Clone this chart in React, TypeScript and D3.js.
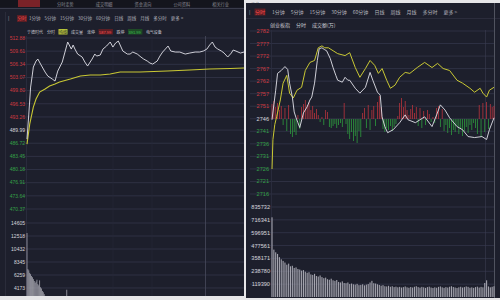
import React from 'react';
import * as d3 from 'd3';

// ---------- toolbar / header text ----------
const toolbarItems = ['1分钟', '5分钟', '15分钟', '30分钟', '60分钟', '日线', '周线', '月线', '多分时', '更多 >'];
const leftTabs = ['分时走势', '成交明细', '资金流向', '公司资料', '相关行业', '更多'];
const leftInfo = ['宁德时代', '分时', '均线', '成交量', '涨停', '587.99', '跌停', '391.99', '电气设备'];
const rightInfo = ['创业板指', '分时', '成交额(万)'];

// ---------- left chart (宁德时代) ----------
const leftPriceTicks = [512.88, 509.61, 506.34, 503.07, 499.8, 496.53, 493.26, 489.99, 486.72, 483.45, 480.18, 476.91, 473.64, 470.37];
const leftPrevClose = 489.99;
const leftVolTicks = [14605, 12518, 10432, 8345, 6259, 4173];
const leftPriceMinutes = [0, 2, 4, 6, 7, 10, 12, 15, 20, 23, 28, 31, 34, 39, 42, 45, 49, 51, 53, 56, 61, 64, 67, 72, 75, 77, 81, 84, 88, 92, 95, 98, 101, 104, 106, 111, 114, 117, 122, 126, 129, 133, 136, 139, 144, 147, 150, 154, 156, 159, 164, 169, 175, 180, 186, 191, 195, 199, 202, 205, 208, 211, 215, 218, 222, 226, 228, 231, 236, 240];
const leftPrice = [487.75, 493.97, 500.68, 503.92, 505.66, 507.15, 507.65, 506.4, 504.41, 503.42, 502.67, 502.18, 504.66, 506.9, 509.39, 511.88, 510.13, 511.13, 510.13, 508.89, 508.15, 506.9, 505.91, 507.65, 508.89, 508.39, 508.64, 510.13, 510.88, 511.88, 510.63, 511.63, 512.12, 510.63, 509.64, 508.89, 508.89, 509.39, 508.89, 508.15, 507.65, 507.15, 506.65, 506.4, 507.15, 508.39, 509.39, 510.38, 510.88, 509.64, 509.39, 509.39, 508.89, 509.14, 509.39, 509.39, 509.64, 510.13, 511.13, 511.88, 510.63, 510.13, 509.64, 509.14, 508.15, 509.14, 509.89, 509.64, 509.14, 509.39];
const leftAvgMinutes = [0, 3, 7, 10, 14, 20, 25, 31, 36, 48, 59, 70, 81, 92, 103, 125, 155, 180, 202, 225, 240];
const leftAvg = [486.51, 491.48, 495.71, 497.7, 499.44, 500.19, 500.93, 501.43, 501.93, 502.67, 503.42, 503.67, 503.67, 503.92, 504.41, 504.41, 504.66, 504.91, 505.16, 505.28, 505.41];
const leftVolume = [13000, 7200, 7000, 6600, 6400, 6100, 5900, 5600, 5300, 5000, 5200, 5500, 4800, 4600, 5400, 4300, 4100, 3700, 3500, 3200, 2900, 2700, 2600, 2500, 2400, 2600, 2300, 2200, 2400, 2100, 2000, 2200, 1900, 2100, 1800, 2000, 1900, 1700, 2000, 1800, 1600, 1900, 1700, 2000, 3900, 1800, 1600, 1500, 1700, 1600];

// ---------- right chart (创业板指) ----------
const rightPriceTicks = [2781.98, 2776.84, 2771.7, 2766.56, 2761.42, 2756.28, 2751.14, 2746.0, 2740.86, 2735.72, 2730.58, 2725.44, 2720.3, 2715.16];
const rightPriceLabels = ['2782', '2777', '2772', '2767', '2762', '2757', '2751', '2746', '2741', '2736', '2731', '2726', '2721', '2716'];
const rightPrevClose = 2746.0;
const rightVolTicks = [835732, 716341, 596951, 477561, 358171, 238780, 119390];
const rightPriceMinutes = [0, 2, 4, 6, 10, 12, 14, 17, 19, 22, 24, 26, 28, 30, 34, 38, 41, 43, 46, 49, 51, 54, 57, 59, 63, 66, 69, 71, 76, 79, 82, 84, 90, 95, 101, 106, 109, 114, 117, 119, 122, 125, 131, 138, 144, 147, 155, 160, 165, 173, 178, 182, 187, 192, 200, 206, 212, 219, 227, 232, 235, 240];
const rightPrice = [2745.6, 2751.7, 2757.7, 2764.6, 2765.8, 2766.6, 2767.4, 2766.2, 2760.6, 2754.9, 2748.8, 2746.4, 2744.4, 2742.4, 2748.4, 2750.9, 2753.7, 2754.9, 2760.6, 2769.9, 2774.7, 2775.1, 2774.3, 2773.9, 2770.7, 2767.0, 2763.8, 2761.8, 2761.0, 2763.0, 2761.8, 2761.8, 2758.5, 2756.5, 2758.9, 2765.0, 2761.8, 2756.9, 2755.7, 2746.8, 2742.8, 2740.3, 2741.5, 2744.4, 2747.6, 2745.6, 2744.4, 2745.6, 2746.8, 2742.8, 2747.6, 2751.7, 2749.6, 2746.4, 2742.8, 2741.5, 2738.7, 2738.3, 2738.7, 2737.5, 2741.5, 2746.4];
const rightAvgMinutes = [0, 1, 3, 5, 9, 12, 16, 19, 23, 27, 32, 36, 41, 46, 50, 54, 57, 61, 66, 71, 79, 84, 90, 95, 101, 106, 111, 115, 119, 124, 128, 133, 138, 144, 149, 157, 165, 173, 179, 185, 192, 200, 206, 214, 219, 225, 228, 232, 235, 240];
const rightAvg = [2725.4, 2737.5, 2743.6, 2746.8, 2753.7, 2760.6, 2763.8, 2756.5, 2754.5, 2757.7, 2758.9, 2765.8, 2769.1, 2769.9, 2775.1, 2775.9, 2775.1, 2775.1, 2773.9, 2772.7, 2771.9, 2773.1, 2767.0, 2763.0, 2766.6, 2769.9, 2767.9, 2764.6, 2766.6, 2761.8, 2758.5, 2759.8, 2763.0, 2765.0, 2764.6, 2767.0, 2769.1, 2767.0, 2768.7, 2766.6, 2765.8, 2761.8, 2760.6, 2758.5, 2756.9, 2758.5, 2756.5, 2754.9, 2757.7, 2758.9];
// breadth (up minus down), one bar every 2 minutes
const rightBreadth = [150, 180, 120, 160, 90, 130, -60, 110, -120, 140, -150, -180, -130, -160, 40, -100, 120, 150, 190, 140, 170, 90, 130, 60, 100, 40, -30, 20, -60, 90, 70, -80, -90, -70, -50, -90, -60, -40, -80, 160, -50, -150, -200, -130, -220, -170, -240, -120, -180, 60, 110, -90, 140, -110, 90, 130, -70, 170, 230, 120, -100, -130, -90, -110, -70, -120, -80, -50, 30, 160, 210, 120, 180, 90, 40, 100, 140, 60, 120, -70, 110, -90, 80, -60, 90, 50, -30, 20, -40, 110, 130, -80, 100, -120, -60, -140, -90, -160, -110, -130, -70, -150, -100, -170, -120, -80, -140, -60, -110, -40, -90, -150, 140, -180, 160, -130, 170, -100, 150, 120, 130];
// turnover, one bar every 2 minutes
const rightVolume = [740000, 440000, 415000, 400000, 370000, 350000, 335000, 320000, 300000, 310000, 285000, 290000, 270000, 275000, 260000, 255000, 245000, 250000, 235000, 225000, 230000, 210000, 205000, 215000, 195000, 190000, 200000, 185000, 175000, 180000, 165000, 160000, 170000, 155000, 150000, 158000, 140000, 135000, 145000, 130000, 128000, 135000, 120000, 125000, 118000, 115000, 122000, 110000, 112000, 118000, 108000, 115000, 120000, 135000, 150000, 128000, 125000, 118000, 112000, 105000, 110000, 100000, 98000, 104000, 95000, 100000, 92000, 96000, 90000, 94000, 88000, 92000, 98000, 90000, 86000, 93000, 88000, 95000, 100000, 92000, 87000, 94000, 90000, 85000, 92000, 96000, 88000, 84000, 90000, 86000, 94000, 98000, 90000, 85000, 92000, 88000, 95000, 100000, 93000, 88000, 84000, 90000, 95000, 88000, 92000, 98000, 94000, 86000, 90000, 85000, 92000, 96000, 88000, 94000, 90000, 130000, 155000, 98000, 90000, 95000, 100000];

// ---------- styling ----------
const BG = '#1d1f2c';
const GRID = '#33364a';
const RED = '#cf3a40';
const GREEN = '#34a047';
const WHITE_T = '#d6d6dc';
const NUM_FONT = '"Liberation Sans", Arial, sans-serif';
const CJK_FONT = '"Noto Sans CJK SC", "Noto Sans", sans-serif';

function textW(s: string, fs: number) {
  let w = 0;
  for (const ch of s) {
    if (/[\u3000-\u9fff\uff00-\uffef]/.test(ch)) w += fs;
    else if (ch === ' ') w += fs * 0.28;
    else w += fs * 0.56;
  }
  return w;
}
function layout(items: string[], x0: number, fs: number, gap: number) {
  let x = x0;
  return items.map((s) => {
    const r = { s, x, w: textW(s, fs) };
    x += r.w + gap;
    return r;
  });
}

export default function App() {
  // left scales
  const xL = d3.scaleLinear().domain([0, 240]).range([27, 244]);
  const yPL = d3.scaleLinear().domain([470.37, 512.88]).range([209, 38]);
  const yVL = d3.scaleLinear().domain([0, 14605]).range([314, 223]);
  // right scales
  const xR = d3.scaleLinear().domain([0, 240]).range([272, 494]);
  const yPR = d3.scaleLinear().domain([2715.16, 2781.98]).range([194, 31]);
  const yVR = d3.scaleLinear().domain([0, 835732]).range([297, 207]);
  const yBR = d3.scaleLinear().domain([-250, 250]).range([144, 94]);

  const lineL = d3.line<[number, number]>().x((d) => xL(d[0])).y((d) => yPL(d[1]));
  const lineR = d3.line<[number, number]>().x((d) => xR(d[0])).y((d) => yPR(d[1]));

  const lPricePts = leftPriceMinutes.map((m, i) => [m, leftPrice[i]] as [number, number]);
  const lAvgPts = leftAvgMinutes.map((m, i) => [m, leftAvg[i]] as [number, number]);
  const rPricePts = rightPriceMinutes.map((m, i) => [m, rightPrice[i]] as [number, number]);
  const rAvgPts = rightAvgMinutes.map((m, i) => [m, rightAvg[i]] as [number, number]);

  const lTool = layout(toolbarItems, 29, 4.5, 4);
  const rTool = layout(toolbarItems, 272, 5, 6);
  const lInfo = layout(leftInfo, 27, 4, 4);
  const rInfoL = layout(rightInfo, 270, 5, 6);
  const lTabs = layout(leftTabs, 57, 4.2, 22);

  const priceColor = (v: number, prev: number) => (Math.abs(v - prev) < 1e-6 ? WHITE_T : v > prev ? RED : GREEN);

  return (
    <svg width={500} height={300} style={{ position: 'fixed', left: 0, top: 0, background: '#e6e6e8' }}>
      <defs>
        <clipPath id="clipLV"><rect x={26} y={216} width={218} height={80} /></clipPath>
        <clipPath id="clipRV"><rect x={271} y={200} width={224} height={97} /></clipPath>
      </defs>

      {/* ===== LEFT PANEL ===== */}
      <rect x={0} y={0} width={244} height={296} fill={BG} />
      <rect x={0} y={0} width={244} height={7.5} fill="#14151d" />
      <rect x={18} y={0} width={22} height={7} fill="#7a2228" />
      {lTabs.map((t) => (
        <text key={t.s} x={t.x} y={5.6} fontSize={4.2} fill="#8c8c96" fontFamily={CJK_FONT}>{t.s}</text>
      ))}
      <line x1={0} x2={244} y1={8.5} y2={8.5} stroke="#3a3c4c" strokeWidth={1} />
      {/* toolbar */}
      <text x={8} y={20} fontSize={5} fill="#8c8c96" fontFamily={NUM_FONT}>|</text>
      <rect x={17} y={15} width={10} height={7} fill="#5a1e24" />
      <text x={17.5} y={20.3} fontSize={4.5} fill="#ff4a4a" fontFamily={CJK_FONT}>分时</text>
      {lTool.map((t) => (
        <text key={t.s} x={t.x} y={20.3} fontSize={4.5} fill="#b4b4bc" fontFamily={CJK_FONT}>{t.s}</text>
      ))}
      {/* info row */}
      {lInfo.map((t, i) => {
        const isAvg = i === 2;
        const col = i === 5 ? '#ff5050' : i === 7 ? '#3cc050' : isAvg ? '#1d1f2c' : '#c8c8d0';
        return (
          <g key={t.s}>
            {isAvg && <rect x={t.x - 0.5} y={29} width={t.w + 1} height={5.5} fill="#b8c43a" />}
            {(i === 5 || i === 7) && <rect x={t.x - 0.5} y={29} width={t.w + 1} height={5.5} fill={i === 5 ? '#5a1e24' : '#1e4a26'} />}
            <text x={t.x} y={33.6} fontSize={4} fill={col} fontFamily={i === 5 || i === 7 ? NUM_FONT : CJK_FONT}>{t.s}</text>
          </g>
        );
      })}
      {/* grid */}
      {leftPriceTicks.map((v) => (
        <line key={'lg' + v} x1={22} x2={244} y1={yPL(v)} y2={yPL(v)} stroke={GRID} strokeWidth={0.8} />
      ))}
      {leftVolTicks.map((v) => (
        <line key={'lv' + v} x1={22} x2={244} y1={yVL(v)} y2={yVL(v)} stroke={GRID} strokeWidth={0.8} />
      ))}
      <line x1={5.5} x2={5.5} y1={12} y2={296} stroke="#2a2c3a" strokeWidth={1} />
      <line x1={26.5} x2={26.5} y1={36} y2={296} stroke="#2c2f40" strokeWidth={0.8} />
      <line x1={113} x2={113} y1={36} y2={296} stroke="#272a3a" strokeWidth={0.6} />
      <line x1={152} x2={152} y1={36} y2={296} stroke="#272a3a" strokeWidth={0.6} />
      <line x1={205.5} x2={205.5} y1={36} y2={296} stroke="#474a5c" strokeWidth={0.8} />
      {/* labels */}
      {leftPriceTicks.map((v) => (
        <text key={'lt' + v} x={25} y={yPL(v) + 1.8} fontSize={5} textAnchor="end" fill={priceColor(v, leftPrevClose)} fontFamily={NUM_FONT}>{v.toFixed(2)}</text>
      ))}
      {leftVolTicks.map((v) => (
        <text key={'lvt' + v} x={25} y={yVL(v) + 1.8} fontSize={5} textAnchor="end" fill={WHITE_T} fontFamily={NUM_FONT}>{v}</text>
      ))}
      {/* volume */}
      <g clipPath="url(#clipLV)">
        {leftVolume.map((v, i) => (
          <rect key={'lb' + i} x={xL(i) - 0.4} y={yVL(v)} width={0.8} height={yVL(0) - yVL(v)} fill="#a4a4ae" />
        ))}
      </g>
      {/* lines */}
      <path d={lineL(lAvgPts) || ''} fill="none" stroke="#c9c834" strokeWidth={1.1} />
      <path d={lineL(lPricePts) || ''} fill="none" stroke="#e2e2ea" strokeWidth={0.9} />

      {/* ===== RIGHT PANEL ===== */}
      <rect x={246} y={3} width={254} height={295} fill={BG} />
      <text x={249} y={14} fontSize={5} fill="#8c8c96" fontFamily={NUM_FONT}>|</text>
      <rect x={254.5} y={8.5} width={11} height={7} fill="#5a1e24" />
      <text x={255} y={14} fontSize={5} fill="#ff4a4a" fontFamily={CJK_FONT}>分时</text>
      {rTool.map((t) => (
        <text key={'r' + t.s} x={t.x} y={14} fontSize={5} fill="#b4b4bc" fontFamily={CJK_FONT}>{t.s}</text>
      ))}
      <line x1={246} x2={500} y1={18.5} y2={18.5} stroke="#2e3040" strokeWidth={0.8} />
      {rInfoL.map((t) => (
        <text key={'ri' + t.s} x={t.x} y={27} fontSize={5} fill="#c8c8d0" fontFamily={CJK_FONT}>{t.s}</text>
      ))}
      {rightPriceTicks.map((v) => (
        <line key={'rg' + v} x1={250} x2={494} y1={yPR(v)} y2={yPR(v)} stroke={GRID} strokeWidth={0.8} />
      ))}
      {rightVolTicks.map((v) => (
        <line key={'rv' + v} x1={250} x2={494} y1={yVR(v)} y2={yVR(v)} stroke={GRID} strokeWidth={0.8} />
      ))}
      <line x1={271.5} x2={271.5} y1={30} y2={297} stroke="#2c2f40" strokeWidth={0.8} />
      <line x1={485.5} x2={485.5} y1={30} y2={297} stroke="#3a3d50" strokeWidth={0.6} />
      <line x1={494.5} x2={494.5} y1={3} y2={298} stroke="#50535f" strokeWidth={1} />
      {rightPriceTicks.map((v, i) => (
        <text key={'rt' + v} x={269} y={yPR(v) + 2} fontSize={5.6} textAnchor="end" fill={priceColor(v, rightPrevClose)} fontFamily={NUM_FONT}>{rightPriceLabels[i]}</text>
      ))}
      {rightVolTicks.map((v) => (
        <text key={'rvt' + v} x={270} y={yVR(v) + 2} fontSize={5.6} textAnchor="end" fill={WHITE_T} fontFamily={NUM_FONT}>{v}</text>
      ))}
      {/* breadth bars */}
      {rightBreadth.map((v, i) => (
        <rect key={'br' + i} x={xR(i * 2) - 0.4} y={Math.min(yBR(0), yBR(v))} width={0.8} height={Math.abs(yBR(v) - yBR(0))} fill={v > 0 ? '#b8343c' : '#2e9a3e'} />
      ))}
      {/* volume */}
      <g clipPath="url(#clipRV)">
        {rightVolume.map((v, i) => (
          <rect key={'rb' + i} x={xR(i * 2) - 0.55} y={yVR(v)} width={1.1} height={yVR(0) - yVR(v)} fill="#a4a4ae" />
        ))}
      </g>
      <path d={lineR(rAvgPts) || ''} fill="none" stroke="#c9c834" strokeWidth={1} />
      <path d={lineR(rPricePts) || ''} fill="none" stroke="#e2e2ea" strokeWidth={0.9} />
    </svg>
  );
}
